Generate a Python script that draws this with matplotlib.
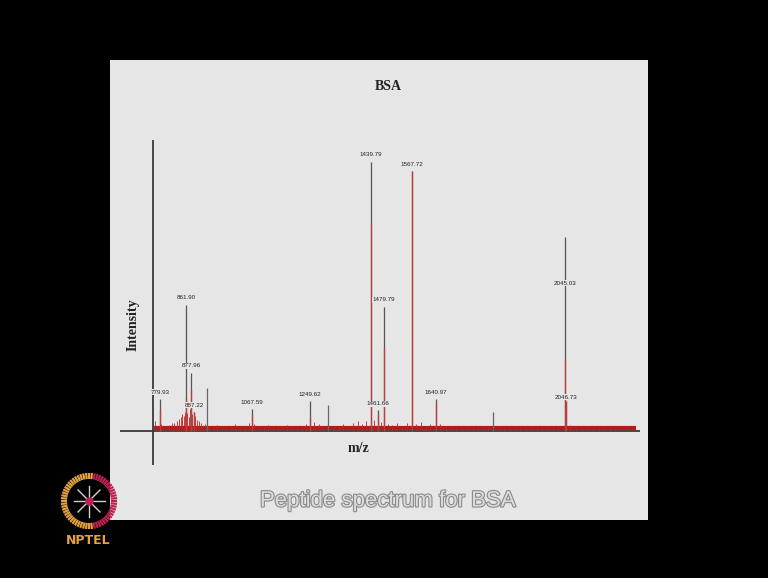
import numpy as np
import matplotlib
matplotlib.use('Agg')
import matplotlib.pyplot as plt
from matplotlib.patches import Rectangle
import matplotlib.patheffects as pe

# labelled peaks (m/z, label text, stick height, red trace height, label centre)
peak_mz = [779.93, 861.90, 877.96, 887.22, 1067.59, 1249.62, 1439.79,
           1461.66, 1479.79, 1567.72, 1640.97, 2045.03, 2046.73]
peak_txt = ['779.93', '861.90', '877.96', '887.22', '1067.59', '1249.62', '1439.79',
            '1461.66', '1479.79', '1567.72', '1640.97', '2045.03', '2046.73']
peak_h = [11.5, 45.5, 21.0, 7.0, 8.0, 11.0, 97.5, 7.5, 45.0, 94.0, 11.5, 70.3, 11.0]
red_h = [8.0, 12.0, 15.0, 7.0, 6.0, 5.0, 75.0, 6.0, 30.0, 94.0, 10.0, 26.0, 11.0]
label_y = [14.1, 48.2, 23.6, 9.4, 10.5, 13.4, 100.0, 9.8, 47.5, 96.4, 14.1, 53.6, 12.3]

# unlabelled sticks
other_mz = [928, 1306, 1820]
other_h = [15.6, 9.4, 6.9]

# baseline noise of the red trace
noise_mz = [764, 772, 785, 796, 808, 817, 826, 834, 840, 845,
            850, 855, 858, 866, 870, 874, 882, 891, 896, 902,
            910, 921, 935, 948, 960, 975, 988, 1001, 1015, 1030,
            1046, 1060, 1075, 1090, 1104, 1118, 1133, 1150, 1163, 1178,
            1193, 1210, 1225, 1238, 1262, 1277, 1290, 1306, 1320, 1338,
            1352, 1367, 1383, 1398, 1411, 1425, 1450, 1470, 1492, 1505,
            1520, 1537, 1552, 1580, 1596, 1611, 1625, 1655, 1672, 1690,
            1706, 1722, 1740, 1757, 1773, 1790, 1806, 1820, 1838, 1856,
            1872, 1890, 1906, 1923, 1940, 1957, 1973, 1990, 2006, 2022,
            2062, 2080, 2098, 2115, 2132, 2150, 2168, 2185, 2202, 2220,
            2238, 2255]
noise_h = [3.5, 2.0, 2.5, 1.8, 2.2, 2.8, 3.0, 3.5, 4.5, 5.0,
           6.0, 5.5, 7.0, 6.5, 5.0, 8.0, 6.0, 5.5, 4.0, 3.5,
           3.0, 2.5, 2.0, 1.8, 2.2, 1.5, 2.0, 1.7, 2.4, 1.6,
           2.0, 3.0, 2.5, 1.8, 1.5, 2.1, 1.6, 1.9, 1.4, 2.2,
           1.7, 1.5, 2.0, 2.6, 3.2, 2.4, 1.8, 2.0, 1.6, 1.9,
           2.5, 2.0, 2.8, 3.5, 2.6, 3.8, 4.0, 3.2, 2.6, 2.2,
           2.8, 2.0, 3.0, 2.5, 3.2, 2.0, 2.4, 2.6, 1.8, 2.0,
           1.6, 1.9, 1.5, 1.8, 1.4, 1.7, 1.6, 1.6, 1.5, 1.8,
           1.4, 1.6, 1.5, 1.7, 1.3, 1.6, 1.4, 1.5, 1.8, 2.0,
           2.2, 1.6, 1.4, 1.5, 1.3, 1.4, 1.2, 1.3, 1.2, 1.1,
           1.2, 1.0]

W, H = 768, 578


def fx(px):
    return px / W


def fy(py):
    return 1 - py / H


fig = plt.figure(figsize=(W / 100, H / 100), dpi=100, facecolor='black')
panel_col = '#e6e6e6'
fig.patches.append(Rectangle((fx(110), fy(520)), (648 - 110) / W, (520 - 60) / H,
                             transform=fig.transFigure, facecolor=panel_col,
                             edgecolor='none', zorder=-5))

ax = fig.add_axes([fx(120), fy(465), 520 / W, 325 / H])
ax.set_facecolor('none')
ax.set_xlim(656, 2279)
ax.set_ylim(-12.3, 105.4)
ax.axis('off')

ax.axhline(0, color='#3a3a3a', lw=1.3, zorder=1)
ax.axvline(760, color='#3a3a3a', lw=1.3, zorder=1)

red = '#c42020'
ax.hlines(1.0, 762, 2268, color='#b01c1c', lw=3.0, zorder=2)
ax.vlines(noise_mz, 0, noise_h, color=red, lw=0.6, zorder=2)
ax.vlines(other_mz, 0, other_h, color='#666666', lw=0.9, zorder=3)
ax.vlines(peak_mz, 0, peak_h, color='#555555', lw=0.9, zorder=3)
ax.vlines(peak_mz, 0, red_h, color='#d03a3a', lw=1.0, alpha=0.8, zorder=4)

sans = ['Liberation Sans', 'DejaVu Sans']
for mz, txt, yy in zip(peak_mz, peak_txt, label_y):
    ax.text(mz, yy, txt, ha='center', va='center', fontsize=4.5,
            family=sans, color='#222222', zorder=5,
            bbox=dict(boxstyle='square,pad=0.1', fc=panel_col, ec='none'))

serif = ['Liberation Serif', 'DejaVu Serif']
fig.text(fx(388), fy(87), 'BSA', ha='center', va='center', fontsize=10,
         fontweight='bold', family=serif, color='#222222')
fig.text(fx(133), fy(325), 'Intensity', ha='center', va='center', fontsize=10,
         fontweight='bold', family=serif, rotation=90, color='#222222')
fig.text(fx(358), fy(448), 'm/z', ha='center', va='center', fontsize=10,
         fontweight='bold', family=serif, color='#222222')

cap = fig.text(fx(388), fy(501), 'Peptide spectrum for BSA', ha='center', va='center',
               fontsize=16, family=sans, color='#dcdcdc')
cap.set_path_effects([pe.withStroke(linewidth=1.6, foreground='#8a8a8a')])

# NPTEL logo
lax = fig.add_axes([fx(58), fy(532), 62 / W, 62 / H])
lax.set_xlim(-1.1, 1.1)
lax.set_ylim(-1.1, 1.1)
lax.axis('off')
for a in np.linspace(0, 2 * np.pi, 60, endpoint=False):
    col = '#e0a040' if np.cos(a) < 0.15 else '#c02050'
    lax.plot([0.78 * np.cos(a), 1.0 * np.cos(a)], [0.78 * np.sin(a), 1.0 * np.sin(a)],
             color=col, lw=1.6, solid_capstyle='butt')
for a in np.linspace(0, np.pi, 4, endpoint=False):
    lax.plot([-0.55 * np.cos(a), 0.55 * np.cos(a)], [-0.55 * np.sin(a), 0.55 * np.sin(a)],
             color='#d8d0d0', lw=1.0)
lax.plot(0, 0, 'o', ms=5, color='#c02050')
fig.text(fx(88), fy(541), 'NPTEL', ha='center', va='center', fontsize=9,
         fontweight='bold', color='#e8a040', family='DejaVu Sans')

fig.savefig('out.png', dpi=100, facecolor='black')
